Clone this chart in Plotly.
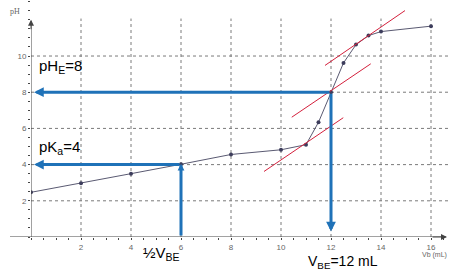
import plotly.graph_objects as go

# titration data (Vb in mL, pH)
vb = [0, 2, 4, 6, 8, 10, 11, 11.5, 12, 12.5, 13, 13.5, 14, 16]
ph = [2.47, 2.97, 3.5, 4.02, 4.56, 4.82, 5.1, 6.34, 8.0, 9.62, 10.63, 11.13, 11.35, 11.65]

# tangent lines (endpoints)
tan_upper_x = [11.76, 14.96]
tan_upper_y = [9.48, 12.51]
tan_mid_x = [10.43, 13.59]
tan_mid_y = [6.62, 9.57]
tan_low_x = [9.32, 12.49]
tan_low_y = [3.62, 6.59]

x_ticks = [2, 4, 6, 8, 10, 12, 14, 16]
y_ticks = [2, 4, 6, 8, 10]

VE, PHE = 12, 8
HALF_VE, PKA = 6, 4

BLUE = "#1f72b8"
RED = "#d4203c"
GRID = "#7a7a7a"
AX = "#444444"
FONT = "Liberation Sans"

# plot-area pixel geometry helpers for text placement
L, T, W, H = 31, 1, 420, 236


def px(xp):
    return (xp - L) / W


def py(yp):
    return (T + H - yp) / H


fig = go.Figure()

shapes = []
for xv in x_ticks:
    shapes.append(dict(type="line", xref="x", yref="y", x0=xv, x1=xv, y0=0, y1=12.07,
                       line=dict(color=GRID, width=1, dash="dot"), layer="below"))
for yv in y_ticks:
    shapes.append(dict(type="line", xref="x", yref="y", x0=0, x1=16.8, y0=yv, y1=yv,
                       line=dict(color=GRID, width=1, dash="dot"), layer="below"))
shapes.append(dict(type="line", xref="paper", yref="y", x0=-0.05, x1=(16.6 / 16.8), y0=0, y1=0,
                   line=dict(color=AX, width=1)))
shapes.append(dict(type="line", xref="x", yref="y", x0=0, x1=0, y0=0, y1=11.95,
                   line=dict(color=AX, width=1)))

fig.add_trace(go.Scatter(x=vb, y=ph, mode="lines+markers",
                         line=dict(color="#5a5a72", width=1),
                         marker=dict(color="#3d3d5c", size=4), showlegend=False))
for tx, ty in [(tan_upper_x, tan_upper_y), (tan_mid_x, tan_mid_y), (tan_low_x, tan_low_y)]:
    fig.add_trace(go.Scatter(x=tx, y=ty, mode="lines", line=dict(color=RED, width=1),
                             showlegend=False, cliponaxis=False))

annotations = []
annotations.append(dict(x=0, y=12.0, ax=0, ay=11.4, xref="x", yref="y", axref="x", ayref="y",
                        text="", showarrow=True, arrowhead=2, arrowsize=1.2, arrowwidth=1, arrowcolor=AX))
annotations.append(dict(x=16.64, y=0, ax=16.0, ay=0, xref="x", yref="y", axref="x", ayref="y",
                        text="", showarrow=True, arrowhead=2, arrowsize=1.2, arrowwidth=1, arrowcolor=AX))
AS = 0.65
annotations.append(dict(x=0.12, y=PHE, ax=VE, ay=PHE, xref="x", yref="y", axref="x", ayref="y",
                        text="", showarrow=True, arrowhead=2, arrowsize=AS, arrowwidth=3, arrowcolor=BLUE))
annotations.append(dict(x=VE, y=0.3, ax=VE, ay=PHE, xref="x", yref="y", axref="x", ayref="y",
                        text="", showarrow=True, arrowhead=2, arrowsize=AS, arrowwidth=3, arrowcolor=BLUE))
annotations.append(dict(x=0.12, y=PKA, ax=HALF_VE, ay=PKA, xref="x", yref="y", axref="x", ayref="y",
                        text="", showarrow=True, arrowhead=2, arrowsize=AS, arrowwidth=3, arrowcolor=BLUE))
annotations.append(dict(x=HALF_VE, y=PKA + 0.05, ax=HALF_VE, ay=0, xref="x", yref="y", axref="x", ayref="y",
                        text="", showarrow=True, arrowhead=2, arrowsize=0.45, arrowwidth=3, arrowcolor=BLUE))


def lab(xp, yp, text, size=14, color="black", family=FONT):
    annotations.append(dict(x=px(xp), y=py(yp), xref="paper", yref="paper", text=text, showarrow=False,
                            font=dict(family=family, size=size, color=color),
                            xanchor="center", yanchor="middle"))


lab(60, 66, "pH<sub>E</sub>=8", 15)
lab(59, 147, "pK<sub>a</sub>=4", 15)
lab(161, 253, "½V<sub>BE</sub>", 15)
lab(343, 262, "V<sub>BE</sub>=12 mL", 14)
lab(15, 12, "pH", 8, "#666666", "Liberation Serif")
lab(434, 255, "Vb (mL)", 7, "#666666")

fig.update_layout(
    width=451, height=270,
    margin=dict(l=L, r=0, t=T, b=270 - T - H),
    paper_bgcolor="white", plot_bgcolor="white",
    shapes=shapes, annotations=annotations,
    xaxis=dict(range=[0, 16.8], tickvals=x_ticks, showgrid=False, zeroline=False, showline=False,
               ticks="outside", ticklen=2, tickcolor=AX,
               tickfont=dict(family=FONT, size=8, color="#666666"),
               minor=dict(dtick=0.5, ticks="outside", ticklen=2, tickcolor=AX, showgrid=False)),
    yaxis=dict(range=[0, 13.04], tickvals=y_ticks, showgrid=False, zeroline=False, showline=False,
               ticks="outside", ticklen=2, tickcolor=AX,
               tickfont=dict(family=FONT, size=8, color="#666666"),
               minor=dict(dtick=0.5, ticks="outside", ticklen=2, tickcolor=AX, showgrid=False)),
)

fig.write_html("out.html")
